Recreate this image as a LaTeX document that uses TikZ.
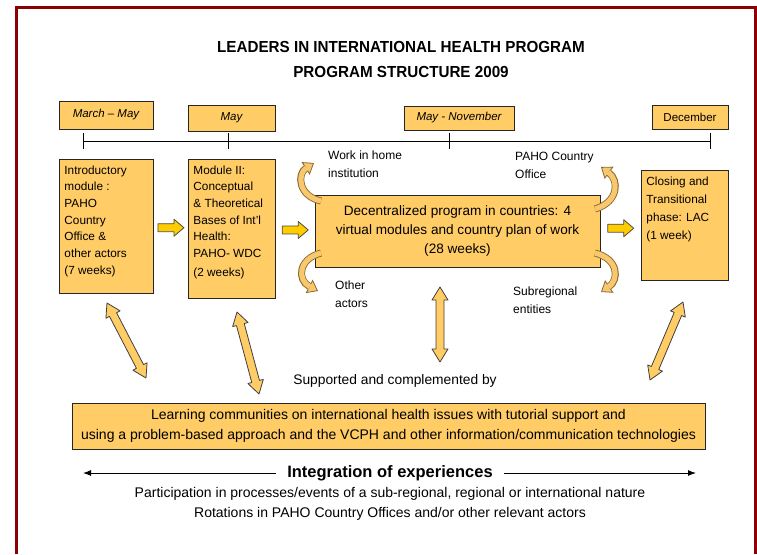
\documentclass[tikz,border=0pt]{standalone}
\usepackage{fontspec}
\usepackage{graphicx}
\setmainfont{Liberation Sans}
\usetikzlibrary{arrows.meta,calc,positioning}

\definecolor{panel}{HTML}{FFCC66}
\definecolor{pushgold}{HTML}{FFCC00}
\definecolor{rimred}{HTML}{8B0000}
\definecolor{loopbody}{HTML}{F8C870}
\definecolor{loopline}{HTML}{8A6A2A}

\tikzset{
  period/.style={draw=black!85, fill=panel, line width=0.9pt, inner sep=0pt,
    font=\fontsize{11.5}{12}\selectfont},
  phase/.style={draw=black!85, fill=panel, line width=0.9pt, anchor=north west,
    inner xsep=5pt, inner ysep=6pt, font=\fontsize{11.8}{16.7}\selectfont},
  hub/.style={draw=black!85, fill=panel, line width=0.9pt, align=center,
    font=\fontsize{13.6}{19}\selectfont},
  side/.style={align=left, anchor=north west, inner sep=0pt,
    font=\fontsize{12}{18}\selectfont},
  twin/.style={draw=black!75, fill=panel, line width=0.8pt, line join=round},
  push/.style={draw=black!70, fill=pushgold, line width=0.8pt, line join=round},
  loopout/.style={draw=loopline, line width=7pt,
    -{Triangle[width=15pt,length=10pt,line width=0.8pt,fill=loopbody]}},
  loopin/.style={draw=loopbody, line width=5.2pt, shorten >=9pt},
  spanline/.style={line width=1pt, -{Latex[length=8pt,width=6pt]}},
  pics/twinarrow/.style={code={
    \filldraw[twin] (-#1,0pt) -- (-#1+13pt,8pt) -- (-#1+13pt,4pt) -- (#1-13pt,4pt)
      -- (#1-13pt,8pt) -- (#1,0pt) -- (#1-13pt,-8pt) -- (#1-13pt,-4pt)
      -- (-#1+13pt,-4pt) -- (-#1+13pt,-8pt) -- cycle;}},
  pics/flowarrow/.style={code={
    \filldraw[push] (-13pt,-4pt) -- (3pt,-4pt) -- (3pt,-8.5pt) -- (13pt,0pt)
      -- (3pt,8.5pt) -- (3pt,4pt) -- (-13pt,4pt) -- cycle;}}
}

\newcommand\twinlink[2]{%
  \path let \p1=($(#2)-(#1)$), \n1={atan2(\y1,\x1)}, \n2={veclen(\x1,\y1)/2} in
    ($(#1)!0.5!(#2)$) pic[rotate=\n1] {twinarrow=\n2};}
\newcommand\bendarrow[1]{\draw[loopout] #1; \draw[loopin] #1;}

\begin{document}
\begin{tikzpicture}[x=1pt,y=-1pt]
	\useasboundingbox (0,0) rectangle (757,554);
	%Frame round the whole chart
	\draw[rimred, line width=3pt] (16,554) -- (16,7.5) -- (755.5,7.5) -- (755.5,554);

	%Heading
	\node (title) at (401,47) {\scalebox{0.95}[1]{\fontsize{16}{16}\selectfont\bfseries LEADERS IN INTERNATIONAL HEALTH PROGRAM}};
	\node (subtitle) at (401,72) {\scalebox{0.95}[1]{\fontsize{16}{16}\selectfont\bfseries PROGRAM STRUCTURE 2009}};

	%Time line with its periods
	\node[period, minimum width=94pt, minimum height=28pt] (marmay) at (106,115) {\itshape March -- May};
	\node[period, minimum width=87pt, minimum height=26pt] (may) at (231.5,118) {\itshape May};
	\node[period, minimum width=110pt, minimum height=24pt] (maynov) at (459,118) {\itshape May - November};
	\node[period, minimum width=76pt, minimum height=24pt] (dec) at (690,117) {December};

	\draw[line width=1pt] (83,141) -- (710,141);
	\foreach \x in {83,228,449,710}
		\draw[line width=1pt] (\x,133) -- (\x,149);

	%Phases of the program
	\node[phase] (intro) at (59,159) {\parbox[t][122pt][t]{84pt}{\raggedright
		Introductory\\module :\\PAHO\\Country\\Office \&\\other actors\\(7 weeks)}};
	\node[phase] (module) at (188,159) {\parbox[t][127pt][t]{77pt}{\raggedright
		Module II:\\Conceptual\\\& Theoretical\\Bases of Int'l\\Health:\\PAHO- WDC\\[2pt](2 weeks)}};
	\node[hub, minimum width=285pt, minimum height=72pt] (hub) at (457.5,231)
		{Decentralized program in countries: 4\\virtual modules and country plan of work\\(28 weeks)};
	\node[phase, font=\fontsize{11.8}{18.3}\selectfont] (closing) at (641,170) {\parbox[t][98pt][t]{77pt}{\raggedright
		Closing and\\Transitional\\phase: LAC\\(1 week)}};

	\foreach \a/\b in {intro/module,module/hub,hub/closing}
		\path ($(\a.east)!0.5!(\b.west)$) pic {flowarrow};

	%Loops out of the decentralized program
	\bendarrow{(321,201) .. controls (298,196) and (297,174) .. (314,163)}
	\bendarrow{(595,209) .. controls (619,202) and (619,180) .. (601,167)}
	\bendarrow{(321,253) .. controls (298,259) and (297,280) .. (318,291)}
	\bendarrow{(595,253) .. controls (619,259) and (619,280) .. (601,292)}

	\node[side] (home) at (328,151) {Work in home\\institution};
	\node[side] (office) at (515,152) {PAHO Country\\Office};
	\node[side] (others) at (335,281) {Other\\actors};
	\node[side] (subreg) at (513,287) {Subregional\\entities};

	%Learning communities and the links to them
	\node (support) at (395,381) {\fontsize{13.8}{14}\selectfont Supported and complemented by};
	\node[hub, minimum width=633pt, minimum height=46pt, font=\fontsize{14}{20}\selectfont] (learning) at (388.5,426)
		{Learning communities on international health issues with tutorial support and\\
		using a problem-based approach and the VCPH and other information/communication technologies};

	\coordinate (t1a) at (107,303); \coordinate (t1b) at (146,378);
	\coordinate (t2a) at (237,312); \coordinate (t2b) at (259,394);
	\coordinate (t3a) at (440,287); \coordinate (t3b) at (440,362);
	\coordinate (t4a) at (683,302); \coordinate (t4b) at (650,380);
	\twinlink{t1a}{t1b}
	\twinlink{t2a}{t2b}
	\twinlink{t3a}{t3b}
	\twinlink{t4a}{t4b}

	%Integration of experiences
	\node[inner xsep=11pt, font=\fontsize{16.5}{16}\selectfont\bfseries] (integ) at (390,473) {Integration of experiences};
	\coordinate (intL) at (83,473);
	\coordinate (intR) at (696,473);
	\draw[spanline] (integ.west) -- (intL);
	\draw[spanline] (integ.east) -- (intR);
	\node[font=\fontsize{14}{14}\selectfont] (events) at (390,494) {Participation in processes/events of a sub-regional, regional or international nature};
	\node[font=\fontsize{14}{14}\selectfont] (rotation) at (390,514) {Rotations in PAHO Country Offices and/or other relevant actors};
\end{tikzpicture}
\end{document}
